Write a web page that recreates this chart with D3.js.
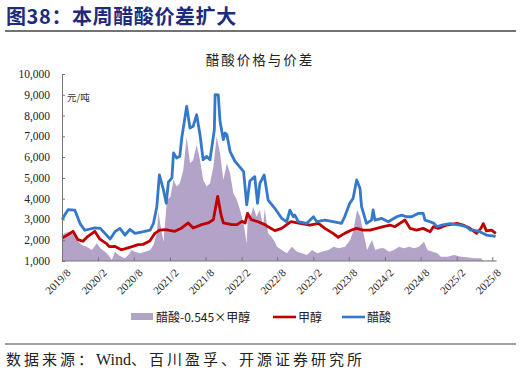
<!DOCTYPE html>
<html>
<head>
<meta charset="utf-8">
<script src="https://cdn.jsdelivr.net/npm/d3@7"></script>
<style>
	html, body { margin: 0; padding: 0; background: #fff; }
	svg { display: block; }
</style>
</head>
<body>
<svg id="chart" width="521" height="374"></svg>
<script>
// values (元/吨)
const aceticDates = ["2019-08-02","2019-08-20","2019-09-01","2019-10-05","2019-11-01","2019-11-25","2020-01-15","2020-02-12","2020-04-02","2020-04-27","2020-05-22","2020-06-17","2020-07-12","2020-08-07","2020-09-19","2020-10-23","2020-11-09","2020-11-26","2020-12-09","2020-12-30","2021-01-13","2021-01-24","2021-02-11","2021-02-19","2021-03-07","2021-03-23","2021-04-02","2021-04-27","2021-05-14","2021-05-30","2021-06-17","2021-07-04","2021-07-20","2021-08-07","2021-08-24","2021-09-15","2021-09-19","2021-10-05","2021-10-14","2021-10-31","2021-11-09","2021-11-18","2021-12-04","2021-12-29","2022-01-16","2022-02-11","2022-02-27","2022-03-15","2022-04-09","2022-04-23","2022-05-05","2022-05-27","2022-06-16","2022-07-20","2022-08-24","2022-09-19","2022-10-05","2022-10-22","2022-10-30","2022-11-17","2022-12-29","2023-02-02","2023-02-19","2023-04-01","2023-05-13","2023-06-25","2023-07-11","2023-08-06","2023-08-23","2023-09-10","2023-09-27","2023-10-05","2023-10-30","2023-11-25","2023-12-03","2023-12-12","2024-01-16","2024-02-18","2024-04-01","2024-04-26","2024-05-21","2024-06-16","2024-07-19","2024-08-14","2024-08-23","2024-09-18","2024-10-08","2024-10-22","2024-11-17","2024-12-29","2025-02-18","2025-03-22","2025-04-12","2025-04-25","2025-05-29","2025-07-02","2025-08-18"];
const aceticPrice = [2990,3300,3470,3450,2800,2480,2590,2570,2060,2410,2570,2250,2525,2330,2410,2490,2815,3610,5140,4420,3775,4800,5000,6197,5960,6040,6919,8443,7400,7480,8040,7077,5875,6035,5875,7320,9004,9000,7722,6838,7160,7080,6280,5800,5600,5300,3700,4850,5060,3775,4740,5140,3935,3535,3055,2890,3450,3130,3210,2890,2810,3130,2890,2970,2890,2810,3130,3775,4015,4898,4500,3615,2811,2970,3455,2970,3050,2890,3130,3210,3130,3130,3290,3290,2970,2890,2810,2650,2730,2800,2730,2650,2490,2490,2410,2250,2190];

const methanolDates = ["2019-08-02","2019-09-01","2019-09-26","2019-10-21","2019-11-16","2019-12-11","2020-01-15","2020-02-10","2020-03-13","2020-03-30","2020-04-25","2020-05-29","2020-06-15","2020-07-19","2020-08-23","2020-09-17","2020-10-21","2020-11-16","2020-12-11","2021-01-08","2021-02-26","2021-04-02","2021-05-05","2021-05-30","2021-07-12","2021-08-15","2021-09-10","2021-10-02","2021-10-19","2021-10-31","2021-12-13","2022-01-08","2022-02-03","2022-02-19","2022-03-03","2022-03-23","2022-04-26","2022-05-30","2022-06-16","2022-07-20","2022-08-24","2022-10-10","2022-11-26","2023-01-16","2023-02-27","2023-04-01","2023-05-13","2023-06-08","2023-07-11","2023-08-15","2023-09-10","2023-10-13","2023-11-17","2023-12-21","2024-01-24","2024-02-27","2024-03-22","2024-04-17","2024-05-13","2024-06-08","2024-07-11","2024-08-14","2024-09-18","2024-10-05","2024-10-30","2024-12-12","2025-02-02","2025-03-05","2025-04-09","2025-05-13","2025-06-04","2025-06-16","2025-07-02","2025-07-28","2025-08-19"];
const methanolPrice = [2107,2270,2430,2030,1950,2190,2430,2050,1850,1690,1706,1546,1580,1680,1786,1800,1960,2330,2490,2510,2430,2590,2830,2590,2750,2830,2990,4113,3230,2830,2750,2750,2910,2830,3295,2990,2890,2750,2650,2460,2570,2890,2814,2730,2814,2570,2330,2140,2330,2490,2570,2490,2490,2570,2650,2730,2650,2814,2973,2570,2490,2570,2410,2650,2570,2730,2814,2730,2570,2330,2570,2800,2450,2490,2330];

const spreadDates = ["2019-08-02","2019-08-16","2019-09-02","2019-09-19","2019-10-06","2019-10-23","2019-11-10","2019-12-05","2019-12-31","2020-01-26","2020-02-12","2020-03-07","2020-03-24","2020-04-11","2020-04-27","2020-05-14","2020-05-31","2020-06-17","2020-07-04","2020-07-21","2020-08-07","2020-09-02","2020-09-28","2020-10-23","2020-11-09","2020-11-26","2020-12-04","2020-12-13","2020-12-30","2021-01-17","2021-02-03","2021-02-19","2021-03-07","2021-03-23","2021-04-10","2021-04-27","2021-05-14","2021-05-30","2021-06-17","2021-07-04","2021-07-20","2021-08-07","2021-08-24","2021-09-10","2021-09-27","2021-10-14","2021-10-31","2021-11-18","2021-12-04","2021-12-21","2022-01-08","2022-01-24","2022-02-11","2022-02-27","2022-03-06","2022-03-15","2022-04-01","2022-04-18","2022-05-05","2022-05-21","2022-05-30","2022-06-16","2022-07-03","2022-07-20","2022-07-31","2022-08-25","2022-09-20","2022-10-15","2022-11-10","2022-12-06","2022-12-31","2023-01-26","2023-02-21","2023-03-16","2023-04-20","2023-05-15","2023-06-10","2023-07-13","2023-08-08","2023-08-25","2023-09-12","2023-09-28","2023-10-15","2023-11-02","2023-11-27","2023-12-14","2024-01-09","2024-01-27","2024-02-22","2024-03-18","2024-04-12","2024-05-08","2024-06-03","2024-06-28","2024-07-23","2024-08-18","2024-09-05","2024-09-30","2024-10-25","2024-11-12","2024-12-15","2025-01-18","2025-02-22","2025-03-25","2025-04-29","2025-06-03","2025-06-19","2025-07-19","2025-08-19"];
const spreadValue = [2250,2330,2410,2330,2250,1930,1770,1690,1530,1850,1610,1450,1290,1050,1450,1290,1210,1130,1290,1530,1450,1370,1450,1530,1770,2330,3370,2810,1930,3930,4094,4898,4580,4740,5380,6982,5700,5860,6580,5860,4900,4580,4740,5540,6980,6180,4900,5700,5220,4260,3940,3450,2810,1850,3450,2970,3610,3130,3450,2650,3500,2330,2170,1930,1690,1530,1370,1690,1450,1370,1290,1530,1370,1450,1530,1690,1610,1690,2010,2490,3450,3130,2330,1530,2010,1530,1610,1610,1450,1530,1690,1610,1690,1610,1690,1930,1530,1450,1370,1210,1210,1290,1210,1180,1130,1130,980,1020,1000];

const yTicks = [1000,2000,3000,4000,5000,6000,7000,8000,9000,10000];
const xTickDates = ["2019-08-01","2020-02-01","2020-08-01","2021-02-01","2021-08-01","2022-02-01","2022-08-01","2023-02-01","2023-08-01","2024-02-01","2024-08-01","2025-02-01","2025-08-01"];

const legendItems = [
	{ label: "醋酸-0.545×甲醇", type: "area", color: "#b3a3c8" },
	{ label: "甲醇", type: "line", color: "#c00000" },
	{ label: "醋酸", type: "line", color: "#3479c9" }
];

const parseDate = d3.timeParse("%Y-%m-%d");
const cnFont = "'Noto Sans CJK SC', 'Noto Sans', sans-serif";
const numFont = "'Liberation Serif', 'DejaVu Serif', serif";

function zipSeries(dates, vals) {
	return dates.map((d, i) => ({ date: parseDate(d), value: vals[i] }));
}
const acetic = zipSeries(aceticDates, aceticPrice);
const methanol = zipSeries(methanolDates, methanolPrice);
const spread = zipSeries(spreadDates, spreadValue);

const svg = d3.select("#chart");

// heading + rules
svg.append("text")
	.attr("x", 6).attr("y", 24)
	.attr("font-family", cnFont).attr("font-size", 20).attr("font-weight", "bold")
	.attr("fill", "#1d2a7e").attr("letter-spacing", 0.6)
	.text("图38：本周醋酸价差扩大");
svg.append("line")
	.attr("x1", 5).attr("x2", 516).attr("y1", 31).attr("y2", 31)
	.attr("stroke", "#444").attr("stroke-width", 1.3);

svg.append("text")
	.attr("x", 260).attr("y", 65).attr("text-anchor", "middle")
	.attr("font-family", cnFont).attr("font-size", 13.5).attr("letter-spacing", 2)
	.attr("fill", "#222")
	.text("醋酸价格与价差");

// scales
const x = d3.scaleTime()
	.domain([parseDate("2019-08-01"), parseDate("2025-08-01")])
	.range([62, 492.3]);
const y = d3.scaleLinear()
	.domain([1000, 10000])
	.range([261, 74])
	.clamp(true);

const plot = svg.append("g");

plot.append("path")
	.datum(spread)
	.attr("fill", "#b3a3c8")
	.attr("d", d3.area()
		.x(d => x(d.date))
		.y0(y(1000))
		.y1(d => y(d.value)));

const line = d3.line()
	.x(d => x(d.date))
	.y(d => y(d.value));

plot.append("path")
	.datum(methanol)
	.attr("fill", "none")
	.attr("stroke", "#c00000")
	.attr("stroke-width", 2.8)
	.attr("stroke-linejoin", "round")
	.attr("d", line);

plot.append("path")
	.datum(acetic)
	.attr("fill", "none")
	.attr("stroke", "#3479c9")
	.attr("stroke-width", 2.8)
	.attr("stroke-linejoin", "round")
	.attr("d", line);

// y axis: ticks point into the plot
const yAxis = svg.append("g")
	.attr("transform", "translate(62,0)")
	.call(d3.axisRight(y).tickValues(yTicks).tickSize(3).tickFormat(""));
yAxis.select(".domain").attr("stroke", "#777");
yAxis.selectAll(".tick line").attr("stroke", "#777");

svg.append("g").selectAll("text")
	.data(yTicks)
	.join("text")
	.attr("x", 50).attr("y", d => y(d) + 4)
	.attr("text-anchor", "end")
	.attr("font-family", numFont).attr("font-size", 11.5).attr("fill", "#222")
	.text(d => d3.format(",")(d));

svg.append("text")
	.attr("x", 67).attr("y", 101)
	.attr("font-family", cnFont).attr("font-size", 9.5).attr("fill", "#333")
	.text("元/吨");

// x axis
const lastDate = acetic[acetic.length - 1].date;
const xAxis = svg.append("g")
	.attr("transform", "translate(0,261)")
	.call(d3.axisTop(x).tickValues(xTickDates.map(parseDate)).tickSize(4).tickSizeOuter(0).tickFormat(""));
xAxis.select(".domain").attr("stroke", "#777").attr("d", `M62,0H${x(lastDate) + 1}`);
xAxis.selectAll(".tick line").attr("stroke", "#777");

svg.append("g").selectAll("text")
	.data(xTickDates)
	.join("text")
	.attr("transform", d => `translate(${x(parseDate(d)) + 4},${268}) rotate(-45)`)
	.attr("text-anchor", "end")
	.attr("dy", "0.7em")
	.attr("font-family", numFont).attr("font-size", 11).attr("fill", "#222")
	.text(d => { const t = parseDate(d); return t.getFullYear() + "/" + (t.getMonth() + 1); });

// legend
const legendX = [131, 273, 342];
const legend = svg.append("g");
legendItems.forEach((item, i) => {
	const g = legend.append("g").attr("transform", `translate(${legendX[i]},317)`);
	if (item.type == "area") {
		g.append("rect").attr("x", 0).attr("y", -4).attr("width", 22).attr("height", 7).attr("fill", item.color);
	} else {
		g.append("line").attr("x1", 0).attr("x2", 23).attr("y1", 0).attr("y2", 0)
			.attr("stroke", item.color).attr("stroke-width", 2.6);
	}
	g.append("text")
		.attr("x", 25).attr("y", 4.5)
		.attr("font-family", cnFont).attr("font-size", 12).attr("fill", "#222")
		.text(item.label);
});

// source line
svg.append("line")
	.attr("x1", 5).attr("x2", 516).attr("y1", 344).attr("y2", 344)
	.attr("stroke", "#444").attr("stroke-width", 1.1);
const source = svg.append("text")
	.attr("x", 6).attr("y", 365)
	.attr("font-family", cnFont).attr("font-size", 15)
	.attr("fill", "#222");
source.append("tspan").attr("letter-spacing", 3).text("数据来源：");
source.append("tspan").attr("font-family", numFont).attr("font-size", 16).text("Wind");
source.append("tspan").attr("letter-spacing", 3).text("、百川盈孚、开源证券研究所");
</script>
</body>
</html>
